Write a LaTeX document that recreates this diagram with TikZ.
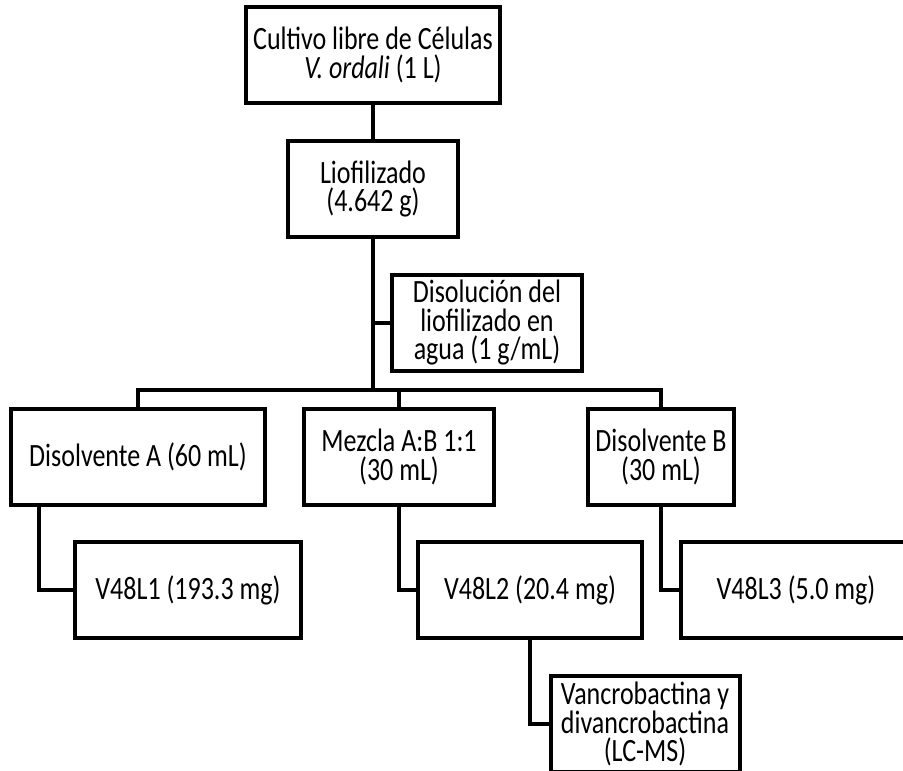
\documentclass[tikz,border=0pt]{standalone}
\usepackage{fontspec}
\setmainfont{Carlito}[FakeStretch=0.8]
\usetikzlibrary{positioning}
\tikzset{box node/.style={draw,line width=4pt,minimum height=96pt,inner sep=2pt,outer sep=0pt,align=center,font={\fontsize{32.5}{28.5}\selectfont\lineskiplimit=-20pt\relax}},}
\tikzset{link/.style={line width=4pt},}

\begin{document}
\begin{tikzpicture}[x=1pt,y=-1pt]
       \useasboundingbox (0,0) rectangle (903,771);
       \clip (0,0) rectangle (903,771);

       \node[box node,minimum width=254pt] (cultivo) at (373,55) {Cultivo libre de Células\\\textit{V. ordali} (1 L)};
       \node[box node,minimum width=170pt] (lio) [below = 38pt of cultivo] {Liofilizado\\(4.642 g)};
       \node[box node,minimum width=190pt] (disol) [below = 38pt of lio, xshift=114pt] {Disolución del\\liofilizado en\\agua (1 g/mL)};

       \node[box node,minimum width=254pt] (dA) [below = 38pt of disol, xshift=-349pt] {Disolvente A (60 mL)};
       \node[box node,minimum width=190pt] (mez) [right = 39pt of dA] {Mezcla A:B 1:1\\(30 mL)};
       \node[box node,minimum width=146pt] (dB) [right = 94pt of mez] {Disolvente B\\(30 mL)};

       \node[box node,minimum width=226pt] (L1) [below = 37pt of dA, xshift=50pt] {V48L1 (193.3 mg)};
       \node[box node,minimum width=224pt] (L2) [below = 37pt of mez, xshift=131pt] {V48L2 (20.4 mg)};
       \node[box node,minimum width=230pt] (L3) [below = 37pt of dB, xshift=135pt] {V48L3 (5.0 mg)};

       \node[box node,minimum width=189pt] (vanc) [below = 38pt of L2, xshift=115pt] {Vancrobactina y\\divancrobactina\\(LC-MS)};

       \coordinate (bus) at ([yshift=19pt]dA.north);

       \draw[link]
       (cultivo) -- (lio)
       (lio) -- (lio |- bus)
       (disol.west) -- (disol.west -| lio)
       (dA) -- (bus) -| (dB)
       (mez) -- (mez |- bus);

       \draw[link]
       ([xshift=28pt]dA.south west) |- (L1)
       (mez) |- (L2)
       (dB) |- (L3)
       (L2) |- (vanc);
    \end{tikzpicture}
\end{document}
